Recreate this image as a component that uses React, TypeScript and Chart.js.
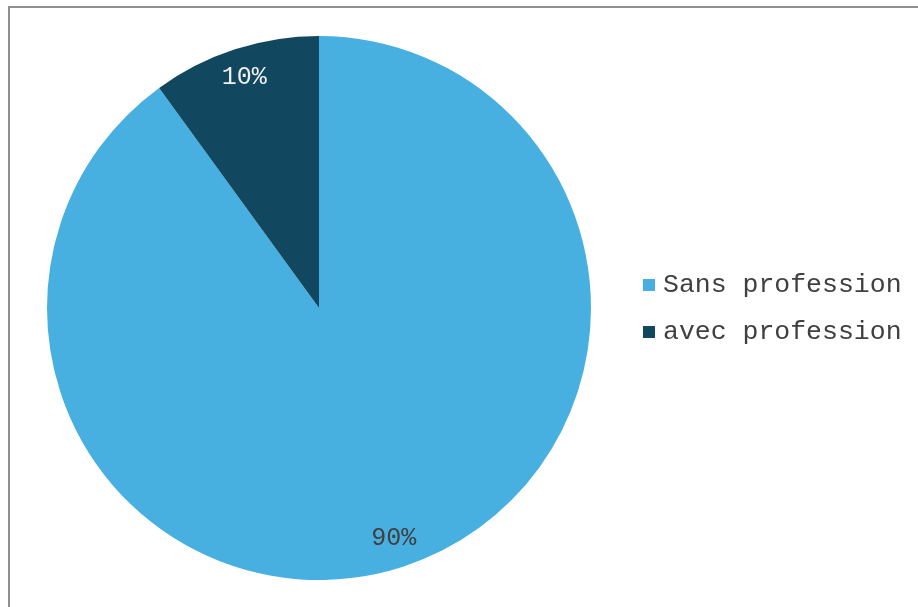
import React, { useEffect, useRef } from "react";
import { Chart, registerables } from "chart.js";

Chart.register(...registerables);

const categories = ["Sans profession", "avec profession"];
const values = [90, 10];
const valueLabels = ["90%", "10%"];
const colors = ["#47B0E0", "#124760"];
const labelColors = ["#404040", "#f0f0f0"];

const sliceLabelPlugin = {
  id: "sliceLabels",
  afterDatasetsDraw(chart: any) {
    const ctx = chart.ctx;
    const meta = chart.getDatasetMeta(0);
    ctx.save();
    ctx.font = "25px 'Liberation Mono', monospace";
    ctx.textAlign = "center";
    ctx.textBaseline = "middle";
    meta.data.forEach((arc: any, i: number) => {
      const p = arc.getProps(["x", "y", "startAngle", "endAngle", "outerRadius"], true);
      const mid = (p.startAngle + p.endAngle) / 2;
      const r = p.outerRadius * 0.89;
      ctx.fillStyle = labelColors[i];
      ctx.fillText(valueLabels[i], p.x + Math.cos(mid) * r, p.y + Math.sin(mid) * r);
    });
    ctx.restore();
  },
};

const legendPlugin = {
  id: "customLegend",
  afterDraw(chart: any) {
    const ctx = chart.ctx;
    const labels = chart.data.labels as string[];
    const bg = chart.data.datasets[0].backgroundColor as string[];
    ctx.save();
    ctx.font = "26.5px 'Liberation Mono', monospace";
    ctx.textAlign = "left";
    ctx.textBaseline = "middle";
    labels.forEach((lab, i) => {
      const y = 285 + i * 47;
      ctx.fillStyle = bg[i];
      ctx.fillRect(643, y - 6, 12, 12);
      ctx.fillStyle = "#404040";
      ctx.fillText(lab, 663, y);
    });
    ctx.restore();
  },
};

export default function App() {
  const ref = useRef<HTMLCanvasElement>(null);
  useEffect(() => {
    if (!ref.current) return;
    const chart = new Chart(ref.current, {
      type: "pie",
      data: {
        labels: categories,
        datasets: [
          {
            data: values,
            backgroundColor: colors,
            borderWidth: 0,
          },
        ],
      },
      options: {
        animation: false,
        responsive: false,
        events: [],
        layout: { padding: { left: 47, top: 36, right: 327, bottom: 27 } },
        plugins: {
          legend: { display: false },
          tooltip: { enabled: false },
        },
      },
      plugins: [sliceLabelPlugin, legendPlugin],
    });
    return () => chart.destroy();
  }, []);
  return (
    <div style={{ position: "absolute", left: 0, top: 0, width: 918, height: 607, background: "#fff", overflow: "hidden" }}>
      <div
        style={{
          position: "absolute",
          left: 8,
          top: 6,
          width: 930,
          height: 620,
          borderLeft: "2px solid #8f8f8f",
          borderTop: "2px solid #8f8f8f",
          boxSizing: "border-box",
        }}
      />
      <canvas ref={ref} width={918} height={607} style={{ position: "absolute", left: 0, top: 0 }} />
    </div>
  );
}
